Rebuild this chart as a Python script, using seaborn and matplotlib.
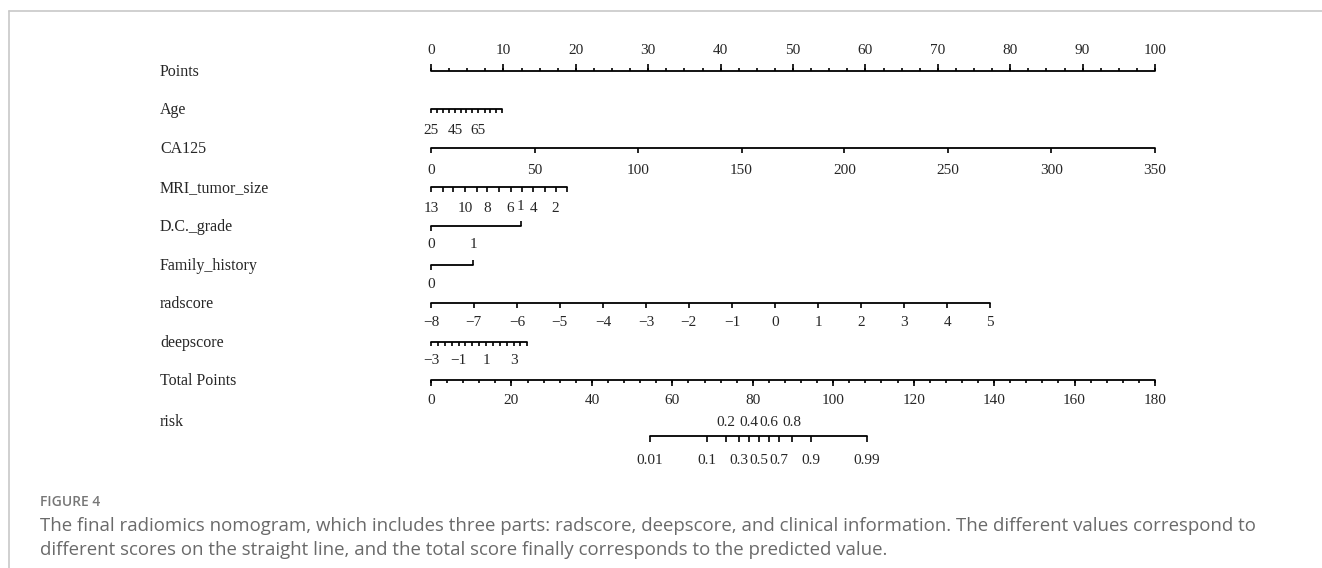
import numpy as np
import pandas as pd
import matplotlib
matplotlib.use("Agg")
import matplotlib.pyplot as plt
import matplotlib.transforms as mtransforms
from matplotlib.lines import Line2D
import seaborn as sns

# --- nomogram data ---
points_major = [0, 10, 20, 30, 40, 50, 60, 70, 80, 90, 100]

age_values = [25, 30, 35, 40, 45, 50, 55, 60, 65, 70, 75, 80, 85]
age_points = [0, 0.8, 1.6, 2.5, 3.3, 4.1, 4.9, 5.7, 6.5, 7.4, 8.2, 9.0, 9.8]
age_labels = [25, 45, 65]

ca125_values = [0, 50, 100, 150, 200, 250, 300, 350]
ca125_points = [0, 14.3, 28.6, 42.9, 57.1, 71.4, 85.7, 100]

mri_values = [13, 12, 11, 10, 9, 8, 7, 6, 5, 4, 3, 2, 1]
mri_points = [0, 1.6, 3.1, 4.7, 6.3, 7.8, 9.4, 11.0, 12.5, 14.1, 15.7, 17.2, 18.8]
mri_labels = [13, 10, 8, 6, 4, 2]

dc_values = [0, 1]
dc_points = [0, 12.4]

family_values = [0, 1]
family_points = [0, 5.8]

rad_values = [-8, -7, -6, -5, -4, -3, -2, -1, 0, 1, 2, 3, 4, 5]
rad_points = [0, 5.9, 11.9, 17.8, 23.8, 29.7, 35.6, 41.6, 47.5, 53.5, 59.4, 65.3, 71.3, 77.2]

deep_values = [-3, -2.5, -2, -1.5, -1, -0.5, 0, 0.5, 1, 1.5, 2, 2.5, 3, 3.5, 4]
deep_points = [0, 0.95, 1.9, 2.85, 3.8, 4.75, 5.7, 6.65, 7.6, 8.55, 9.5, 10.45, 11.4, 12.35, 13.3]
deep_labels = [-3, -1, 1, 3]

total_major = [0, 20, 40, 60, 80, 100, 120, 140, 160, 180]
total_max = 180

risk_values = [0.01, 0.1, 0.2, 0.3, 0.4, 0.5, 0.6, 0.7, 0.8, 0.9, 0.99]
risk_total = [54.4, 68.6, 73.3, 76.6, 79.1, 81.6, 84.0, 86.5, 89.8, 94.5, 108.4]
risk_above = [0.2, 0.4, 0.6, 0.8]

caption_title = "FIGURE 4"
caption_text = ("The final radiomics nomogram, which includes three parts: radscore, deepscore, and clinical information. The different values correspond to\n"
                "different scores on the straight line, and the total score finally corresponds to the predicted value.")

# --- layout (pixel rows) ---
W, H = 1322, 568
X0, PX_PER_PT = 431, 7.24
LABEL_X = 160
SERIF = ["Liberation Serif", "DejaVu Serif"]
NUM_FS = 11
NAME_FS = 11.5


def fmt(v):
    s = f"{v:g}"
    return s.replace("-", "\u2212")


def main():
    sns.set_style("white")
    plt.rcParams["font.family"] = SERIF

    fig = plt.figure(figsize=(W / 100, H / 100), dpi=100)
    ax = fig.add_axes([0, 0, 1, 1])

    scale = 100 / total_max
    rows = {
        "Points": (points_major, [float(p) for p in points_major], 71),
        "Age": (age_values, age_points, 109),
        "CA125": (ca125_values, ca125_points, 148),
        "MRI_tumor_size": (mri_values, mri_points, 187),
        "D.C._grade": (dc_values, dc_points, 226),
        "Family_history": (family_values, family_points, 265),
        "radscore": (rad_values, rad_points, 303),
        "deepscore": (deep_values, deep_points, 342),
        "Total Points": (total_major, [t * scale for t in total_major], 380),
        "risk": (risk_values, [t * scale for t in risk_total], 436),
    }
    name_y = {k: v[2] + 1 for k, v in rows.items()}
    name_y["risk"] = 422

    # axis lines through seaborn
    recs = []
    for name, (vals, pts, y) in rows.items():
        recs.append({"row": name, "x": min(pts), "y": y})
        recs.append({"row": name, "x": max(pts), "y": y})
    df = pd.DataFrame(recs)
    sns.lineplot(data=df, x="x", y="y", units="row", estimator=None,
                 color="black", lw=1.3, sort=False, ax=ax)

    lw = 1.2
    # Points: ticks up, labels above
    y = rows["Points"][2]
    minor = np.arange(0, 100.01, 2.5)
    ax.vlines(minor, y - 3, y, color="black", lw=lw)
    ax.vlines(points_major, y - 7, y, color="black", lw=lw)
    for p in points_major:
        ax.text(p, 50, fmt(p), ha="center", va="center", fontsize=NUM_FS)

    def down_axis(name, labels, tick_len=5, label_dy=20):
        vals, pts, y = rows[name]
        ax.vlines(pts, y, y + tick_len, color="black", lw=lw)
        for v, p in zip(vals, pts):
            if v in labels:
                ax.text(p, y + label_dy, fmt(v), ha="center", va="center", fontsize=NUM_FS)

    down_axis("Age", age_labels, tick_len=4, label_dy=21)
    down_axis("CA125", ca125_values, tick_len=5, label_dy=22)
    down_axis("MRI_tumor_size", mri_labels, tick_len=5, label_dy=21)
    down_axis("radscore", rad_values, tick_len=5, label_dy=19)
    down_axis("deepscore", deep_labels, tick_len=4, label_dy=19)

    # binary variables: 0 below the left end, 1 above the right end
    for name in ["D.C._grade", "Family_history"]:
        vals, pts, y = rows[name]
        ax.vlines(pts[0], y, y + 5, color="black", lw=lw)
        ax.vlines(pts[1], y - 5, y, color="black", lw=lw)
        ax.text(pts[0], y + 19, fmt(vals[0]), ha="center", va="center", fontsize=NUM_FS)
        ax.text(pts[1], y - 20, fmt(vals[1]), ha="center", va="center", fontsize=NUM_FS)

    # Total Points
    vals, pts, y = rows["Total Points"]
    tminor = np.arange(0, total_max + 0.01, 4) * scale
    ax.vlines(tminor, y, y + 3, color="black", lw=lw)
    ax.vlines(pts, y, y + 6, color="black", lw=lw)
    for v, p in zip(vals, pts):
        ax.text(p, y + 20, fmt(v), ha="center", va="center", fontsize=NUM_FS)

    # risk
    vals, pts, y = rows["risk"]
    ax.vlines(pts, y, y + 6, color="black", lw=lw)
    for v, p in zip(vals, pts):
        if v in risk_above:
            ax.text(p, y - 13, fmt(v), ha="center", va="center", fontsize=NUM_FS)
        else:
            ax.text(p, y + 24, fmt(v), ha="center", va="center", fontsize=NUM_FS)

    # row names
    trans = mtransforms.blended_transform_factory(fig.transFigure, ax.transData)
    for name in rows:
        ax.text(LABEL_X / W, name_y[name], name, transform=trans,
                ha="left", va="center", fontsize=NAME_FS)

    ax.set_xlim(-X0 / PX_PER_PT, (W - X0) / PX_PER_PT)
    ax.set_ylim(H, 0)
    ax.set_axis_off()

    # frame lines and caption
    gray = "#c8c8c8"
    fig.add_artist(Line2D([9 / W, 1], [1 - 11 / H, 1 - 11 / H], color=gray, lw=1.2,
                          transform=fig.transFigure))
    fig.add_artist(Line2D([9 / W, 9 / W], [0, 1 - 11 / H], color=gray, lw=1.2,
                          transform=fig.transFigure))
    fig.text(40 / W, 1 - 502 / H, caption_title, ha="left", va="center",
             fontsize=10, color="#777777", fontweight="semibold",
             family=["Open Sans", "DejaVu Sans"])
    fig.text(40 / W, 1 - 538 / H, caption_text, ha="left", va="center",
             fontsize=13.4, color="#6a6a6a", linespacing=1.42,
             family=["Open Sans", "DejaVu Sans"])

    fig.savefig("out.png", dpi=100)
    plt.close(fig)


if __name__ == "__main__":
    main()
